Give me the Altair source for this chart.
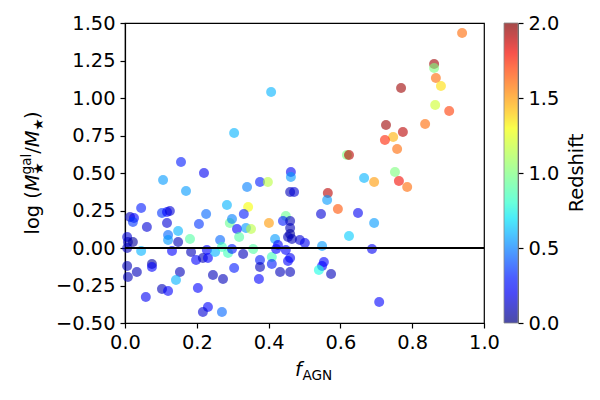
import altair as alt
import pandas as pd

# f_AGN, log(M*gal/M*), redshift
fagn = [0.939, 0.861, 0.861, 0.866, 0.880, 0.769, 0.864, 0.903, 0.836, 0.727,
        0.774, 0.747, 0.724, 0.758, 0.618, 0.624, 0.752, 0.763, 0.786, 0.666,
        0.694, 0.565, 0.563, 0.593, 0.546, 0.649, 0.694, 0.624, 0.487, 0.501,
        0.549, 0.688, 0.554, 0.549, 0.540, 0.574, 0.708, 0.304, 0.407,
        0.156, 0.220, 0.106, 0.170, 0.340, 0.376, 0.398, 0.462, 0.462, 0.460,
        0.471, 0.045, 0.284, 0.343, 0.331, 0.226, 0.103, 0.117, 0.125, 0.014,
        0.025, 0.022, 0.117, 0.061, 0.206, 0.292, 0.298, 0.312, 0.337, 0.351,
        0.318, 0.401, 0.448, 0.440, 0.460, 0.460, 0.460, 0.454, 0.465, 0.418,
        0.426, 0.148, 0.120, 0.120, 0.148, 0.181, 0.265, 0.006, 0.008, 0.022,
        0.006, 0.045, 0.131, 0.184, 0.228, 0.198, 0.217, 0.231, 0.251, 0.270,
        0.287, 0.298, 0.329, 0.357, 0.376, 0.376, 0.409, 0.409, 0.421, 0.448,
        0.460, 0.454, 0.432, 0.460, 0.304, 0.245, 0.273, 0.373, 0.231, 0.217,
        0.270, 0.006, 0.033, 0.008, 0.075, 0.075, 0.153, 0.142, 0.058, 0.103,
        0.120, 0.203]
logratio = [1.433, 1.227, 1.200, 1.133, 1.080, 1.067, 0.953, 0.913, 0.827, 0.820,
            0.773, 0.740, 0.720, 0.660, 0.620, 0.620, 0.507, 0.447, 0.407, 0.467,
            0.440, 0.367, 0.320, 0.260, 0.227, 0.233, 0.167, 0.080, 0.053, 0.033,
            0.013, -0.007, -0.093, -0.120, -0.147, -0.173, -0.360, 0.767, 1.040,
            0.573, 0.500, 0.453, 0.380, 0.407, 0.440, 0.440, 0.507, 0.473, 0.373,
            0.373, 0.267, 0.287, 0.273, 0.227, 0.227, 0.233, 0.240, 0.247, 0.207,
            0.200, 0.173, 0.167, 0.140, 0.160, 0.167, 0.193, 0.127, 0.133, 0.127,
            0.073, 0.167, 0.213, 0.180, 0.180, 0.133, 0.093, 0.073, 0.060, 0.060,
            0.020, 0.113, 0.087, 0.053, 0.040, 0.060, 0.053, 0.073, 0.040, 0.040,
            0.000, -0.020, -0.020, -0.027, -0.013, -0.080, -0.067, -0.067, -0.027, 0.007,
            -0.033, -0.007, -0.040, -0.007, -0.080, -0.127, -0.060, -0.107, -0.007, -0.013,
            -0.067, -0.087, -0.160, -0.160, -0.133, -0.180, -0.207, -0.207, -0.393, -0.427,
            -0.427, -0.120, -0.160, -0.193, -0.107, -0.127, -0.160, -0.213, -0.327, -0.273,
            -0.287, -0.267]
redshift = [1.60, 1.95, 1.00, 1.60, 1.35, 1.95, 1.20, 1.70, 1.60, 1.95,
            1.90, 1.45, 1.75, 1.60, 1.00, 1.90, 1.00, 1.80, 1.60, 0.60,
            1.50, 1.90, 0.55, 1.65, 0.15, 0.20, 0.55, 0.65, 0.15, 0.20,
            0.55, 0.20, 0.25, 0.25, 0.75, 0.10, 0.25, 0.60, 0.60,
            0.30, 0.20, 0.55, 0.55, 0.50, 0.30, 1.15, 0.20, 0.55, 0.10,
            0.15, 0.30, 0.60, 1.30, 0.30, 0.45, 0.35, 0.25, 0.15, 0.10,
            0.25, 0.35, 0.15, 0.15, 0.35, 0.95, 0.50, 0.25, 0.55, 1.15,
            0.90, 1.50, 0.95, 0.30, 0.10, 0.10, 0.05, 0.10, 0.10, 0.55,
            0.25, 0.60, 0.45, 0.55, 0.10, 0.90, 0.45, 0.15, 0.10, 0.05,
            0.10, 0.60, 0.25, 0.10, 0.25, 0.25, 0.10, 0.25, 0.60, 0.85,
            0.85, 0.30, 0.10, 0.90, 0.30, 0.10, 0.85, 0.30, 0.25, 0.25,
            0.20, 0.25, 0.10, 0.10, 0.30, 0.10, 0.10, 0.25, 0.25, 0.15,
            0.45, 0.10, 0.10, 0.10, 0.05, 0.25, 0.10, 0.60, 0.20, 0.10,
            0.25, 0.25]

x_ticks = [0.0, 0.2, 0.4, 0.6, 0.8, 1.0]
y_ticks = [-0.5, -0.25, 0.0, 0.25, 0.5, 0.75, 1.0, 1.25, 1.5]
cbar_ticks = [0.0, 0.5, 1.0, 1.5, 2.0]

# jet colormap stops (fraction of colour range) and colours
jet_pos = [0, 0.11, 0.125, 0.34, 0.35, 0.375, 0.64, 0.65, 0.66, 0.89, 0.91, 1.0]
jet_col = ["#00007f", "#0000ff", "#0000ff", "#00dbff", "#00e5f7", "#14ffe2",
           "#eeff08", "#f7ff00", "#ffec00", "#ff1300", "#e80000", "#7f0000"]

FONT = "DejaVu Sans"
FS = 19.4
SS = 13.6

df = pd.DataFrame({"fagn": fagn, "logr": logratio, "z": redshift})

points = alt.Chart(df).mark_circle(size=100, opacity=0.6).encode(
    x=alt.X("fagn:Q", scale=alt.Scale(domain=[0, 1], nice=False, zero=False),
            axis=alt.Axis(values=x_ticks, format=".1f", title=None)),
    y=alt.Y("logr:Q", scale=alt.Scale(domain=[-0.5, 1.5], nice=False, zero=False),
            axis=alt.Axis(values=y_ticks, format=".2f", title=None, orient="left")),
    color=alt.Color("z:Q",
                    scale=alt.Scale(domain=[p * 2 for p in jet_pos], range=jet_col,
                                    interpolate="rgb"),
                    legend=alt.Legend(title=None, values=cbar_ticks, format=".1f",
                                      orient="none", legendX=379, legendY=0,
                                      gradientLength=300, gradientThickness=14,
                                      gradientOpacity=0.7,
                                      gradientStrokeColor="#555", gradientStrokeWidth=0.8,
                                      labelOpacity=0, labelFontSize=1,
                                      direction="vertical")),
)

zero = alt.Chart(pd.DataFrame({"y0": [0.0]})).mark_rule(color="black", strokeWidth=2).encode(
    y=alt.Y("y0:Q", scale=alt.Scale(domain=[-0.5, 1.5], nice=False, zero=False), axis=None))

# colourbar tick axis (independent scale 0..2, drawn at the right of the gradient)
cbar_axis = alt.Chart(pd.DataFrame({"zt": cbar_ticks})).mark_point(opacity=0).encode(
    x=alt.value(0),
    y=alt.Y("zt:Q", scale=alt.Scale(domain=[0, 2], nice=False, zero=False),
            axis=alt.Axis(values=cbar_ticks, format=".1f", title=None, orient="right",
                          offset=34, domainColor="#555", domainWidth=0.8)),
)

def txt(s, x, y, size, angle=0, style="normal", baseline="alphabetic", align="left"):
    kw = dict(text=s, font=FONT, fontSize=size, fontStyle=style, color="black",
              align=align, baseline=baseline)
    if angle:
        kw["angle"] = angle
    return alt.Chart(pd.DataFrame({"a": [0]})).mark_text(**kw).encode(
        x=alt.value(x), y=alt.value(y))

# x title: f_AGN
xt = [txt("f", 170, 353, FS, style="italic"), txt("AGN", 177.5, 357, SS)]
# y title: log (M_star^gal / M_star), rotated
yt = [txt("log (", -86, 211.5, FS, 270),
      txt("M", -86, 168.2, FS, 270, "italic"),
      txt("★", -82, 151.5, SS, 270),
      txt("gal", -94, 151.5, SS, 270),
      txt("/", -86, 130.7, FS, 270),
      txt("M", -86, 124.2, FS, 270, "italic"),
      txt("★", -82, 107.5, SS, 270),
      txt(")", -86, 96.1, FS, 270)]
# colourbar title
ct = [txt("Redshift", 458, 150, FS, 270, align="center")]

chart = alt.layer(points, zero, cbar_axis, *xt, *yt, *ct).resolve_scale(
    y="independent"
).properties(
    width=359, height=300,
    autosize=alt.AutoSizeParams(type="none"),
    padding={"left": 117, "top": 15, "right": 108, "bottom": 65},
).configure_view(stroke="black", strokeWidth=1.2).configure_axis(
    labelFont=FONT, labelFontSize=FS, labelColor="black", labelFlush=False,
    domainColor="black", domainWidth=1.2, tickColor="black", tickWidth=1.2,
    tickSize=5, labelPadding=5, grid=False,
)

chart.save("out.html", embed_options={"renderer": "svg", "actions": False})
